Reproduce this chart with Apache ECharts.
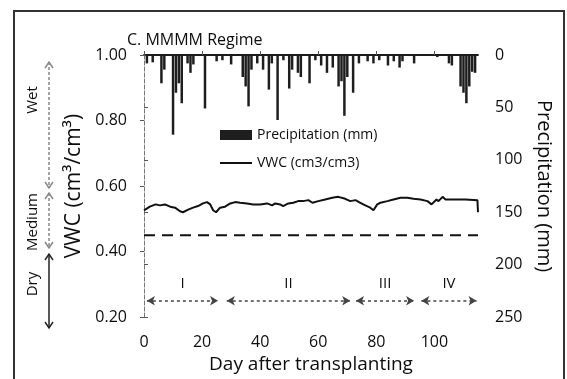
<!DOCTYPE html>
<html>
<head>
<meta charset="utf-8">
<script src="https://cdn.jsdelivr.net/npm/echarts@6/dist/echarts.min.js"></script>
<style>
  html, body { margin: 0; padding: 0; background: #fff; }
  #chart { width: 567px; height: 379px; }
</style>
</head>
<body>
<div id="chart"></div>
<script>
// Daily rainfall events (day after transplanting, mm)
const precipDays = [1, 3, 6, 7, 10, 11, 12, 13, 15, 16, 17, 21, 25, 27, 30, 34, 35, 36, 37, 39, 41, 43, 44, 46, 48, 50, 51, 53, 54, 57, 59, 61, 63, 65, 67, 68, 69, 70, 72, 74, 77, 79, 81, 84, 86, 88, 89, 93, 101, 105, 106, 109, 110, 111, 112, 113, 114];
const precipMm   = [8, 7, 27, 14, 76, 36, 27, 46, 8, 17, 9, 51, 6, 5, 9, 21, 30, 49, 14, 8, 14, 33, 8, 62, 5, 32, 14, 17, 21, 27, 5, 10, 17, 12, 30, 25, 58, 21, 36, 8, 6, 8, 5, 10, 6, 12, 6, 8, 2, 8, 10, 30, 36, 46, 30, 16, 17];

// Volumetric water content of the soil
const vwcDays   = [0, 2, 4, 5.5, 7.2, 9, 10.7, 12.4, 13.4, 15.2, 16.9, 18.6, 20.3, 21.7, 22.8, 23.8, 24.8, 26.2, 27.9, 29.7, 31.4, 33.1, 35.5, 37.6, 40, 42.4, 44.1, 45.2, 46.9, 47.9, 49.7, 51.4, 53.1, 54.8, 56.6, 58, 60, 62.4, 64.8, 66.9, 69.3, 71, 72.8, 74.5, 76.2, 77.9, 79, 80.3, 81.4, 83.8, 85.9, 88.3, 90.7, 92.8, 95.2, 97.6, 99, 100.7, 101.4, 102.8, 103.8, 106.2, 110.7, 114.8, 115];
const vwcValues = [0.526, 0.537, 0.544, 0.541, 0.544, 0.537, 0.534, 0.523, 0.520, 0.528, 0.534, 0.539, 0.547, 0.551, 0.544, 0.526, 0.520, 0.534, 0.537, 0.547, 0.551, 0.549, 0.547, 0.544, 0.544, 0.547, 0.541, 0.547, 0.544, 0.539, 0.547, 0.549, 0.554, 0.554, 0.557, 0.549, 0.554, 0.559, 0.564, 0.567, 0.561, 0.554, 0.557, 0.549, 0.541, 0.534, 0.526, 0.544, 0.549, 0.554, 0.559, 0.564, 0.564, 0.561, 0.559, 0.554, 0.544, 0.559, 0.554, 0.567, 0.559, 0.559, 0.559, 0.557, 0.520];

// Dry / medium boundary
const threshold = 0.45;

// Growth stages
const phaseNames = ['I', 'II', 'III', 'IV'];
const phaseStart = [1, 28.5, 73, 95.5];
const phaseEnd   = [25.5, 71, 93, 114.5];
const phaseLevel = 0.25;

const dayMax = 115;
const FONT = '"Open Sans", Lato, sans-serif';
const INK = '#0d0d0d';

const chart = echarts.init(document.getElementById('chart'));

// Open chevron double arrow on the left margin
function vArrow(x, y1, y2, color, dashed) {
  const h = 6, w = 4;
  return {
    type: 'group',
    children: [
      { type: 'line', shape: { x1: x, y1: y1, x2: x, y2: y2 },
        style: { stroke: color, lineWidth: 1.5, lineDash: dashed ? [3, 2] : null } },
      { type: 'polyline', shape: { points: [[x - w, y1 + h], [x, y1], [x + w, y1 + h]] },
        style: { stroke: color, lineWidth: 1.5, fill: null } },
      { type: 'polyline', shape: { points: [[x - w, y2 - h], [x, y2], [x + w, y2 - h]] },
        style: { stroke: color, lineWidth: 1.5, fill: null } }
    ]
  };
}
function sideText(text, x, y) {
  return { type: 'text', x: x, y: y, rotation: Math.PI / 2,
    style: { text: text, font: '15px ' + FONT, fill: INK, align: 'center', verticalAlign: 'middle' } };
}

const phaseLines = phaseNames.map((n, i) => [
  { coord: [phaseStart[i], phaseLevel], name: n },
  { coord: [phaseEnd[i], phaseLevel] }
]);

chart.setOption({
  animation: false,
  backgroundColor: '#fff',
  textStyle: { fontFamily: FONT },
  title: {
    text: 'C. MMMM Regime', left: 122, top: 27,
    textStyle: { fontSize: 16, fontWeight: 'normal', color: INK, fontFamily: FONT }
  },
  legend: {
    orient: 'vertical', left: 215, top: 123,
    itemWidth: 32, itemHeight: 10, itemGap: 14,
    symbolKeepAspect: true,
    textStyle: { fontSize: 14, color: INK, fontFamily: FONT },
    data: [
      { name: 'Precipitation (mm)', icon: 'rect' },
      { name: 'VWC (cm3/cm3)', icon: 'path://M0,0L32,0L32,2L0,2Z' }
    ]
  },
  grid: { left: 144, right: 89, top: 55, bottom: 61 },
  xAxis: [{
    type: 'value', min: 0, max: dayMax, interval: 20, position: 'bottom',
    axisLine: { lineStyle: { color: INK, width: 1.5 } },
    axisTick: { inside: true, length: 4, lineStyle: { color: '#555' } },
    axisLabel: { fontSize: 16, color: INK, margin: 17, showMaxLabel: false,
      formatter: v => (v % 20 === 0 ? String(v) : '') },
    splitLine: { show: false },
    name: 'Day after transplanting', nameLocation: 'middle', nameGap: 34,
    nameTextStyle: { fontSize: 19, color: INK }
  }, {
    type: 'value', min: 0, max: dayMax, position: 'top',
    axisLine: { lineStyle: { color: INK, width: 1.5 } },
    axisTick: { show: false }, axisLabel: { show: false }, splitLine: { show: false }
  }],
  yAxis: [{
    type: 'value', min: 0.2, max: 1.0, interval: 0.2, position: 'left',
    axisLine: { show: true, lineStyle: { color: '#777', type: [3, 3], width: 1 } },
    axisTick: { show: true, length: 4, lineStyle: { color: '#555' } },
    axisLabel: { fontSize: 16, color: INK, margin: 17, formatter: v => v.toFixed(2) },
    splitLine: { show: false },
    name: 'VWC (cm³/cm³)', nameLocation: 'middle', nameGap: 53, nameRotate: 90,
    nameTextStyle: { fontSize: 21, color: INK }
  }, {
    type: 'value', min: 0, max: 250, interval: 50, inverse: true, position: 'right',
    axisLine: { show: true, lineStyle: { color: '#777', type: [3, 3], width: 1 } },
    axisTick: { show: true, length: 4, lineStyle: { color: '#555' } },
    axisLabel: { fontSize: 16, color: INK, margin: 17 },
    splitLine: { show: false },
    name: 'Precipitation (mm)', nameLocation: 'middle', nameGap: 55, nameRotate: -90,
    nameTextStyle: { fontSize: 20, color: INK }
  }],
  series: [{
    name: 'Precipitation (mm)', type: 'bar', xAxisIndex: 0, yAxisIndex: 1,
    barWidth: 2.5, itemStyle: { color: '#1e1e1e' },
    data: precipDays.map((d, i) => [d, precipMm[i]])
  }, {
    name: 'VWC (cm3/cm3)', type: 'line', xAxisIndex: 0, yAxisIndex: 0,
    symbol: 'none', lineStyle: { color: '#111', width: 2 }, itemStyle: { color: '#111' },
    data: vwcDays.map((d, i) => [d, vwcValues[i]])
  }, {
    name: 'threshold', type: 'line', xAxisIndex: 0, yAxisIndex: 0, silent: true,
    symbol: 'none', lineStyle: { color: '#111', width: 2, type: [11, 7] },
    data: [[0, threshold], [dayMax, threshold]]
  }, {
    name: 'stages', type: 'line', xAxisIndex: 0, yAxisIndex: 0, silent: true,
    symbol: 'none', data: [],
    markLine: {
      silent: true, symbol: ['arrow', 'arrow'], symbolSize: [7, 8],
      lineStyle: { color: '#444', width: 1.5, type: [3, 3] },
      label: { show: true, position: 'middle', formatter: '{b}', distance: 9,
        fontSize: 15, color: INK, fontFamily: FONT },
      data: phaseLines
    }
  }],
  graphic: [
    { type: 'rect', shape: { x: 14, y: 11, width: 550, height: 380 },
      style: { stroke: '#333', lineWidth: 2, fill: null }, silent: true },
    vArrow(49, 62, 188, '#888', true),
    vArrow(49, 193, 248, '#888', true),
    vArrow(49, 254, 328, '#222', false),
    sideText('Wet', 33, 100),
    sideText('Medium', 33, 222),
    sideText('Dry', 33, 284)
  ]
});
</script>
</body>
</html>
